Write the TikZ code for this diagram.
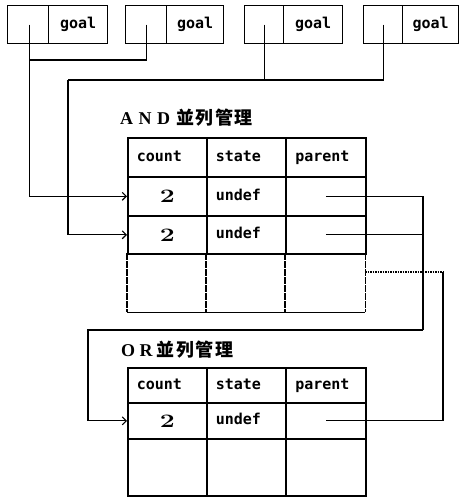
\documentclass[tikz,border=0pt]{standalone}
\usepackage{fontspec}
\setmonofont{DejaVu Sans Mono}
\newfontfamily\cjk{Noto Sans CJK JP}
\newfontfamily\lat{Liberation Serif}
\usetikzlibrary{arrows.meta}
\newcommand\kbox[2]{\makebox[#1][l]{#2}}
\begin{document}
\begin{tikzpicture}[x=1pt,y=-1pt,
  conn/.style={line width=1.2pt},
  arr/.style={conn,-{Straight Barb[length=4pt,width=8pt,line width=1.1pt]}},
  gbox/.style={draw,line width=1.3pt,inner sep=0pt,anchor=north west,minimum height=38pt},
  gtext/.style={font=\ttfamily\bfseries\fontsize{15}{15}\selectfont,text height=11pt,text depth=3pt},
  cell/.style={draw,line width=1.6pt,inner sep=0pt,anchor=north west,minimum width=79pt},
  ncell/.style={inner sep=0pt,anchor=north west,minimum width=79pt},
  hcell/.style={cell,text width=61pt,inner xsep=9pt,align=left,text height=11pt,text depth=3pt,font=\ttfamily\bfseries\fontsize{15}{15}\selectfont},
  ncnt/.style={cell,font=\bfseries\fontsize{19}{19}\selectfont},
  lbl/.style={inner sep=0pt,anchor=west},
  dashv/.style={line width=1.6pt,dash pattern=on 7pt off 1pt}
]
\useasboundingbox (0,0) rectangle (459,498);
% goal boxes
\node[gbox,minimum width=41pt] (g1p) at (7,5) {};
\node[gbox,gtext,minimum width=59pt] (g1) at (48,5) {goal};
\node[gbox,minimum width=41pt] (g2p) at (125,5) {};
\node[gbox,gtext,minimum width=57pt] (g2) at (166,5) {goal};
\node[gbox,minimum width=39pt] (g3p) at (244,5) {};
\node[gbox,gtext,minimum width=59pt] (g3) at (283,5) {goal};
\node[gbox,minimum width=39pt] (g4p) at (363,5) {};
\node[gbox,gtext,minimum width=56pt] (g4) at (402,5) {goal};
% labels
\node[lbl] (andlbl) at (120,118) {{\lat\bfseries\fontsize{18}{18}\selectfont\kbox{18.5pt}{A}\kbox{18.5pt}{N}\kbox{19pt}{D}}{\cjk\bfseries\fontsize{18}{18}\selectfont\kbox{19.5pt}{並}\kbox{19.5pt}{列}\kbox{19.5pt}{管}\kbox{19.5pt}{理}}};
\node[lbl] (orlbl) at (121,350) {{\lat\bfseries\fontsize{18}{18}\selectfont\kbox{18.5pt}{O}\kbox{17pt}{R}}{\cjk\bfseries\fontsize{18}{18}\selectfont\kbox{19.5pt}{並}\kbox{19.5pt}{列}\kbox{19.5pt}{管}\kbox{19.5pt}{理}}};
% AND table
\node[hcell,minimum height=39pt] (ah1) at (127,137) {count};
\node[hcell,minimum height=39pt] (ah2) at (206,137) {state};
\node[hcell,minimum height=39pt,minimum width=80pt] (ah3) at (285,137) {parent};
\node[ncnt,minimum height=39pt] (a1c) at (127,176) {\scalebox{1.4}[1]{2}};
\node[hcell,minimum height=39pt] (a1s) at (206,176) {undef};
\node[cell,minimum height=39pt,minimum width=80pt] (a1p) at (285,176) {};
\node[ncnt,minimum height=38pt] (a2c) at (127,215) {\scalebox{1.4}[1]{2}};
\node[hcell,minimum height=38pt] (a2s) at (206,215) {undef};
\node[cell,minimum height=38pt,minimum width=80pt] (a2p) at (285,215) {};
\node[ncell,minimum height=59pt] (a3c) at (127,253) {};
\node[ncell,minimum height=59pt] (a3s) at (206,253) {};
\node[ncell,minimum height=59pt,minimum width=80pt] (a3p) at (285,253) {};
\draw[line width=1.6pt] (a3c.south west) -- (a3p.south east);
\draw[dashv] (a3c.north west) -- (a3c.south west);
\draw[dashv] (a3s.north west) -- (a3s.south west);
\draw[dashv] (a3p.north west) -- (a3p.south west);
\draw[dashv] (a3p.north east) -- (a3p.south east);
% OR table
\node[hcell,minimum height=35pt] (oh1) at (127,367) {count};
\node[hcell,minimum height=35pt] (oh2) at (206,367) {state};
\node[hcell,minimum height=35pt,minimum width=80pt] (oh3) at (285,367) {parent};
\node[ncnt,minimum height=36pt] (o1c) at (127,402) {\scalebox{1.4}[1]{2}};
\node[hcell,minimum height=36pt] (o1s) at (206,402) {undef};
\node[cell,minimum height=36pt,minimum width=80pt] (o1p) at (285,402) {};
\node[cell,minimum height=57pt] (o2c) at (127,438) {};
\node[cell,minimum height=57pt] (o2s) at (206,438) {};
\node[cell,minimum height=57pt,minimum width=80pt] (o2p) at (285,438) {};
% connectors from goals
\coordinate (j1) at (29,60);
\coordinate (j2) at (68,80);
\draw[conn] (g2p.center) |- (j1);
\draw[arr] ([xshift=1.5pt]g1p.center) |- (a1c.west);
\draw[conn] (g3p.center) |- (j2);
\draw[conn] (g4p.center) |- (j2);
\draw[arr] (j2) |- (a2c.west);
% AND parent pointers
\coordinate (r1) at (423,330);
\coordinate (r2) at (88,330);
\draw[conn] (a1p.center) -| (r1);
\draw[conn] (a2p.center) -- (a2p.center -| r1);
\draw[arr] (r1) -- (r2) |- (o1c.west);
% OR parent pointer to AND third entry
\coordinate (d0) at (365,272);
\coordinate (d1) at (443,272);
\draw[line width=1.6pt,dash pattern=on 1.5pt off 1pt] (d0) -- (d1);
\draw[conn] (d1) |- (o1p.center);
\end{tikzpicture}
\end{document}
